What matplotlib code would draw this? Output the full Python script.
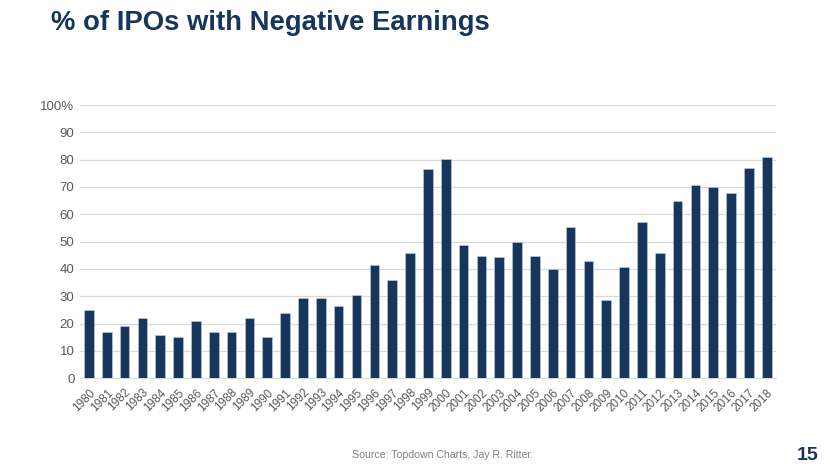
import matplotlib
matplotlib.use("Agg")
import matplotlib.pyplot as plt

years = [str(y) for y in range(1980, 2019)]
values = [25, 17, 19, 22, 16, 15, 21, 17, 17, 22,
          15, 24, 29.3, 29.3, 26.3, 30.4, 41.3, 35.9, 45.9, 76.4,
          80.4, 48.8, 44.9, 44.4, 49.9, 44.9, 39.9, 55.5, 42.8, 28.8,
          40.9, 57.3, 45.9, 65, 70.9, 69.9, 67.8, 76.8, 80.9]
yticks = [0, 10, 20, 30, 40, 50, 60, 70, 80, 90, 100]
ytick_labels = ["0", "10", "20", "30", "40", "50", "60", "70", "80", "90", "100%"]

plt.rcParams['font.family'] = ['Liberation Sans', 'DejaVu Sans']

fig = plt.figure(figsize=(8.30, 4.67), dpi=100)
ax = fig.add_axes([80/830, 1 - 378.3/467, 695.7/830, (378.3 - 105)/467])

navy = "#17365D"
x = list(range(len(years)))
ax.bar(x, values, width=0.54, color=navy, edgecolor="#c9d1dc", linewidth=0.4, zorder=3)
ax.set_xlim(-0.5, len(years) - 0.5)
ax.set_ylim(0, 100)
ax.set_yticks(yticks)
ax.set_yticklabels(ytick_labels, color="#595959", fontsize=9.5)
ax.set_xticks(x)
ax.set_xticklabels(years, rotation=45, ha="right", rotation_mode="anchor",
                   color="#595959", fontsize=8.5)
ax.tick_params(axis="both", length=0, pad=4)
ax.tick_params(axis="x", pad=6)
ax.grid(axis="y", color="#d9d9d9", linewidth=0.9, zorder=0)
for s in ["top", "right", "left"]:
    ax.spines[s].set_visible(False)
ax.spines["bottom"].set_color("#d9d9d9")

fig.text(51/830, 1 - 23/467, "% of IPOs with Negative Earnings", fontsize=19.8,
         fontweight="bold", color=navy, va="center", ha="left")
fig.text(352/830, 1 - 455/467, "Source: Topdown Charts, Jay R. Ritter.", fontsize=7.6,
         color="#808080", va="center", ha="left")
fig.text(818/830, 1 - 455/467, "15", fontsize=14, fontweight="bold", color=navy,
         va="center", ha="right")

fig.savefig("out.png", dpi=100)
